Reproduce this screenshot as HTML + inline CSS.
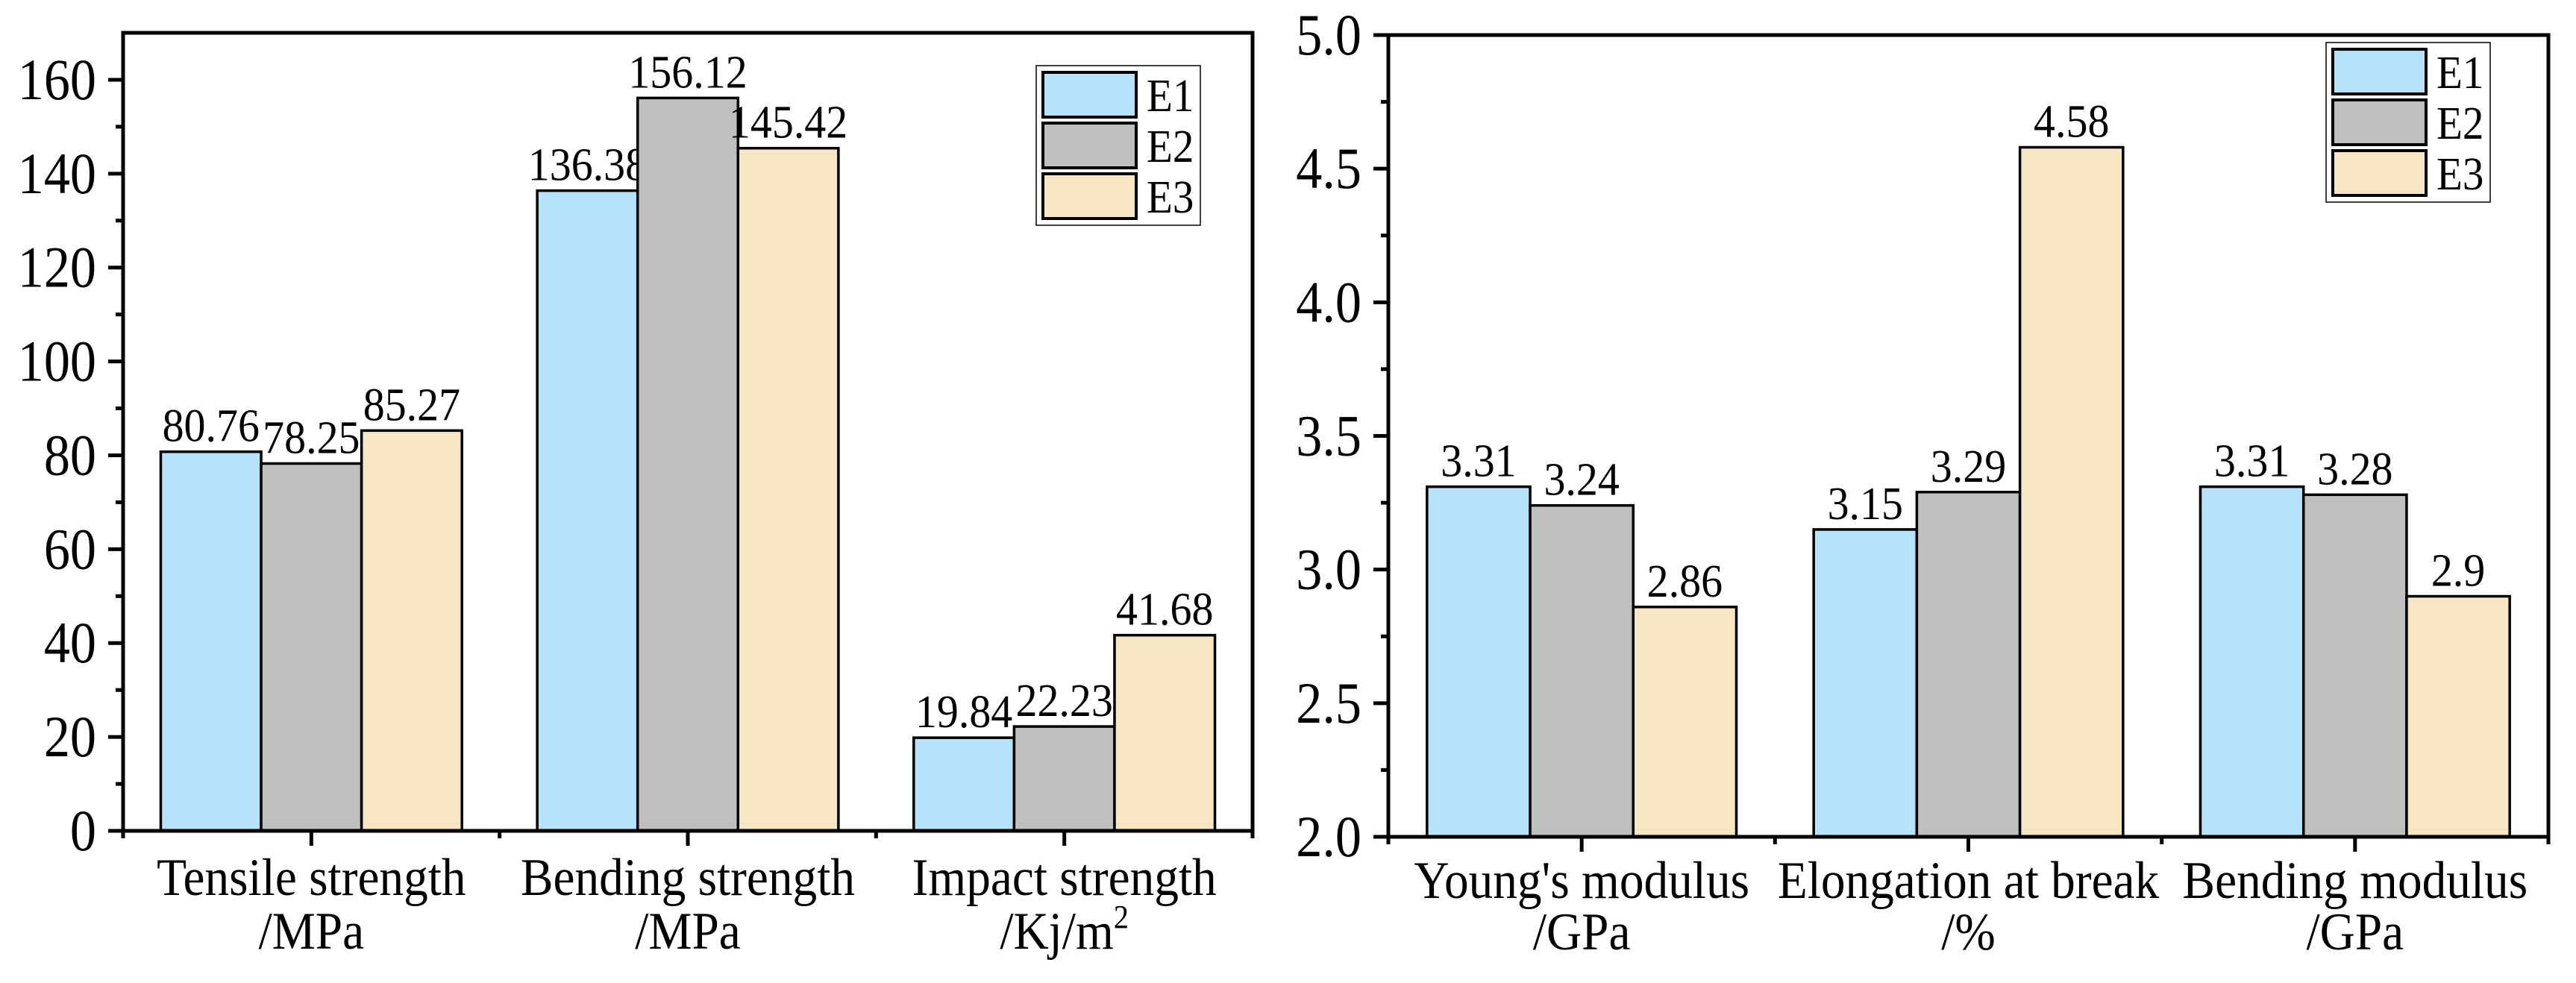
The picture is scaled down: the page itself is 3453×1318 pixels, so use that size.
<!DOCTYPE html>
<html><head><meta charset="utf-8"><style>
html,body{margin:0;padding:0;background:#fff;}
svg{display:block;}
svg text{font-family:"Liberation Serif","Times New Roman",serif;}
</style></head><body>
<svg id="chart" width="3453" height="1318" viewBox="0 0 3453 1318" xmlns="http://www.w3.org/2000/svg" font-family="Liberation Serif, serif">
<rect width="3453" height="1318" fill="#fff"/>
</svg>
<script>
const seriesNames = ["E1","E2","E3"];
const seriesColors = ["#b6e3fb","#bfbfbf","#f7e6c3"];
const leftCategories = [["Tensile strength","/MPa"],["Bending strength","/MPa"],["Impact strength","/Kj/m","2"]];
const leftE1 = [80.76,136.38,19.84];
const leftE2 = [78.25,156.12,22.23];
const leftE3 = [85.27,145.42,41.68];
const leftLabelsE1 = ["80.76","136.38","19.84"];
const leftLabelsE2 = ["78.25","156.12","22.23"];
const leftLabelsE3 = ["85.27","145.42","41.68"];
const leftTicks = [0,20,40,60,80,100,120,140,160];
const rightCategories = [["Young's modulus","/GPa"],["Elongation at break","/%"],["Bending modulus","/GPa"]];
const rightE1 = [3.31,3.15,3.31];
const rightE2 = [3.24,3.29,3.28];
const rightE3 = [2.86,4.58,2.90];
const rightLabelsE1 = ["3.31","3.15","3.31"];
const rightLabelsE2 = ["3.24","3.29","3.28"];
const rightLabelsE3 = ["2.86","4.58","2.9"];
const rightTicks = ["2.0","2.5","3.0","3.5","4.0","4.5","5.0"];

const NS="http://www.w3.org/2000/svg";
const svg=document.getElementById('chart');
const FONT='Liberation Serif, Times New Roman, serif';
function el(tag,attrs,parent){const e=document.createElementNS(NS,tag);for(const k in attrs)e.setAttribute(k,attrs[k]);if(tag==='text')e.setAttribute('font-family',FONT);(parent||svg).appendChild(e);return e;}
function txt(parent,x,y,size,sx,anchor){
  return el('text',{x:0,y:0,'font-size':size,'text-anchor':anchor,transform:'translate('+x+','+y+') scale('+sx+',1)'},parent);
}

function drawPanel(cfg){
  const g=el('g',{});
  
  
  const y=v=>cfg.y0+(v-cfg.vmin)/(cfg.vmax-cfg.vmin)*(cfg.y1-cfg.y0);
  const band=(cfg.x1-cfg.x0)/cfg.cats.length;
  const xc=i=>cfg.x0+band*(i+0.5);
  const bw=band*0.8/3;
  const series=[cfg.s1,cfg.s2,cfg.s3];
  const labels=[cfg.l1,cfg.l2,cfg.l3];
  for(let s=0;s<3;s++){
    for(let i=0;i<cfg.cats.length;i++){
      const bx=xc(i)-1.5*bw+s*bw, top=y(series[s][i]);
      const r=el('rect',{x:bx,y:top,width:bw,height:y(cfg.vmin)-top,fill:seriesColors[s],stroke:'#000','stroke-width':3.5},g);
      
      
      const t=txt(g,bx+bw/2,top-14,63,0.92,'middle');
      
      
      t.textContent=labels[s][i];
    }
  }
  const f=el('rect',{x:cfg.x0,y:cfg.y1,width:cfg.x1-cfg.x0,height:cfg.y0-cfg.y1,fill:'none',stroke:'#000','stroke-width':5},g);
  
  
  const tv=cfg.ticks.map(Number);
  const step=tv[1]-tv[0];
  for(let k=0;k<tv.length;k++){
    const ty=y(tv[k]);
    el('line',{x1:cfg.x0-20,x2:cfg.x0,y1:ty,y2:ty,stroke:'#000','stroke-width':5},g);
    const t=txt(g,cfg.x0-36,ty+26,78,0.9,'end');
    
    
    t.textContent=cfg.ticks[k];
  }
  for(let v=tv[0]+step/2;v<cfg.vmax;v+=step){
    const ty=y(v);
    el('line',{x1:cfg.x0-10,x2:cfg.x0,y1:ty,y2:ty,stroke:'#000','stroke-width':5},g);
  }
  for(let i=0;i<=cfg.cats.length;i++){
    const tx=cfg.x0+band*i;
    el('line',{x1:tx,x2:tx,y1:cfg.y0,y2:cfg.y0+10,stroke:'#000','stroke-width':5},g);
  }
  for(let i=0;i<cfg.cats.length;i++){
    el('line',{x1:xc(i),x2:xc(i),y1:cfg.y0,y2:cfg.y0+20,stroke:'#000','stroke-width':5},g);
    const t1=txt(g,xc(i),cfg.lab1,71,0.92,'middle');
    
    
    t1.textContent=cfg.cats[i][0];
    const t2=txt(g,xc(i),cfg.lab2,71,0.92,'middle');
    
    
    t2.textContent=cfg.cats[i][1];
    if(cfg.cats[i][2]){
      const sp=el('tspan',{'font-size':44,dy:-28},t2);
      sp.textContent=cfg.cats[i][2];
    }
  }
  const lg=el('g',{},g);
  
  
  el('rect',{x:cfg.lx,y:cfg.ly,width:220,height:214,fill:'#fff',stroke:'#000','stroke-width':1.5},lg);
  for(let s=0;s<3;s++){
    const sy=cfg.ly+9+s*68;
    const sw=el('rect',{x:cfg.lx+9,y:sy,width:125,height:60,fill:seriesColors[s],stroke:'#000','stroke-width':4},lg);
    
    
    const t=txt(lg,cfg.lx+148,sy+52,62,0.92,'start');
    
    
    t.textContent=seriesNames[s];
  }
}
drawPanel({name:'strength-chart',x0:165,x1:1679,y0:1114,y1:44,vmin:0,vmax:170,cats:leftCategories,
  s1:leftE1,s2:leftE2,s3:leftE3,l1:leftLabelsE1,l2:leftLabelsE2,l3:leftLabelsE3,ticks:leftTicks.map(String),
  lab1:1200,lab2:1272,lx:1389,ly:88});
drawPanel({name:'modulus-chart',x0:1861,x1:3416,y0:1122,y1:47,vmin:2,vmax:5,cats:rightCategories,
  s1:rightE1,s2:rightE2,s3:rightE3,l1:rightLabelsE1,l2:rightLabelsE2,l3:rightLabelsE3,ticks:rightTicks,
  lab1:1204,lab2:1273,lx:3118,ly:57});
</script>
</body></html>
